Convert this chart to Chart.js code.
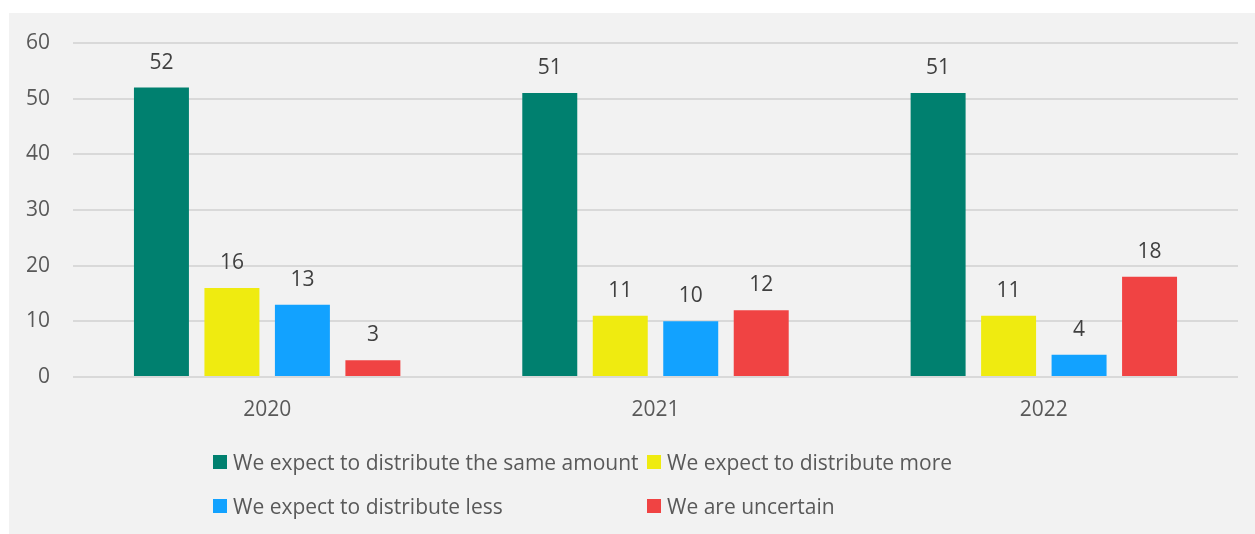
<!DOCTYPE html>
<html>
<head>
<meta charset="utf-8">
<script src="https://cdn.jsdelivr.net/npm/chart.js@4"></script>
<style>
  body { margin: 0; background: #fff; }
  #wrap { position: absolute; left: 9px; top: 13px; width: 1246px; height: 521px; background: #f2f2f2; }
  #chart { position: absolute; left: 0; top: 0; }
  #legend { position: absolute; left: 204px; top: 435px; display: grid; grid-template-columns: 434px auto; row-gap: 16px;
            font-family: "Open Sans", sans-serif; font-size: 21px; color: #595959; }
  #legend div { display: flex; align-items: center; height: 28px; white-space: nowrap; }
  #legend span.box { display: inline-block; width: 14px; height: 14px; margin-right: 6px; }
</style>
</head>
<body>
<div id="wrap">
  <canvas id="chart" width="1246" height="521"></canvas>
  <div id="legend"></div>
</div>
<script>
const years = ["2020", "2021", "2022"]
const seriesNames = [
  "We expect to distribute the same amount",
  "We expect to distribute more",
  "We expect to distribute less",
  "We are uncertain"
]
const sameAmount = [52, 51, 51]
const more = [16, 11, 11]
const less = [13, 10, 4]
const uncertain = [3, 12, 18]
const yTicks = [0, 10, 20, 30, 40, 50, 60]

const colors = ["#00806f", "#efeb10", "#12a2ff", "#f04343"]
const values = [sameAmount, more, less, uncertain]

const valueLabels = {
  id: "valueLabels",
  afterDatasetsDraw(chart) {
    const ctx = chart.ctx
    ctx.save()
    ctx.font = "21px 'Open Sans', sans-serif"
    ctx.fillStyle = "#404040"
    ctx.textAlign = "center"
    ctx.textBaseline = "middle"
    chart.data.datasets.forEach((ds, i) => {
      chart.getDatasetMeta(i).data.forEach((bar, j) => {
        ctx.fillText(ds.data[j], bar.x, bar.y - 25)
      })
    })
    ctx.restore()
  }
}

new Chart(document.getElementById("chart"), {
  type: "bar",
  data: {
    labels: years,
    datasets: seriesNames.map((name, i) => ({
      label: name,
      data: values[i],
      backgroundColor: colors[i],
      categoryPercentage: 0.726,
      barPercentage: 0.78
    }))
  },
  options: {
    responsive: false,
    animation: false,
    layout: { padding: { left: 0, top: 30, right: 17, bottom: 107 } },
    scales: {
      x: {
        grid: { display: false },
        border: { display: false },
        ticks: { color: "#595959", font: { family: "Open Sans", size: 21 }, padding: 12 },
        afterFit: s => { s.height = 50 }
      },
      y: {
        min: 0, max: 60,
        afterBuildTicks: s => { s.ticks = yTicks.map(v => ({ value: v })) },
        grid: { color: "#d9d9d9", lineWidth: 2, tickLength: 12, tickColor: "transparent" },
        border: { display: false },
        ticks: { color: "#595959", font: { family: "Open Sans", size: 21 }, padding: 11 },
        afterFit: s => { s.width = 64 }
      }
    },
    plugins: { legend: { display: false }, tooltip: { enabled: false } }
  },
  plugins: [valueLabels]
})

const legend = document.getElementById("legend")
seriesNames.forEach((name, i) => {
  const item = document.createElement("div")
  item.innerHTML = `<span class="box" style="background:${colors[i]}"></span>${name}`
  legend.appendChild(item)
})
</script>
</body>
</html>
